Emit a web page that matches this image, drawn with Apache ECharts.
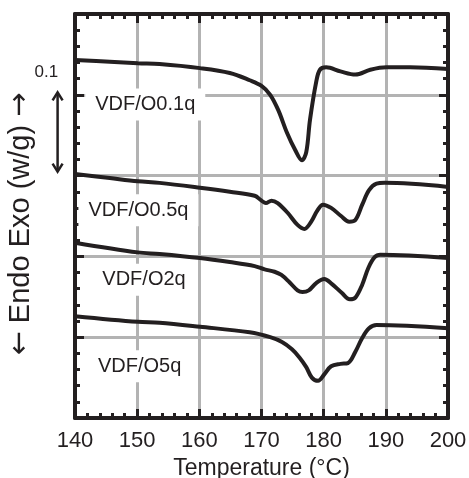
<!DOCTYPE html>
<html>
<head>
<meta charset="utf-8">
<script src="https://cdn.jsdelivr.net/npm/echarts@6/dist/echarts.min.js"></script>
<style>
html,body{margin:0;padding:0;background:#fff;}
#c{width:469px;height:478px;}
</style>
</head>
<body>
<div id="c"></div>
<script>
// ---- data (temperature in °C, heat flow in W/g, arbitrary offset) ----
const xTicks = [140, 150, 160, 170, 180, 190, 200];
const seriesNames = ['VDF/O0.1q', 'VDF/O0.5q', 'VDF/O2q', 'VDF/O5q'];

const t1 = [140.0,145.6,150.1,153.6,160.1,164.9,168.1,170.0,171.4,172.7,174.1,175.4,176.5,177.2,177.8,178.8,179.4,180.4,182.7,185.1,187.5,190.1,193.9,200.0];
const v1 = [0.443,0.441,0.439,0.438,0.433,0.427,0.418,0.411,0.400,0.381,0.353,0.332,0.319,0.329,0.369,0.416,0.431,0.434,0.429,0.425,0.431,0.434,0.434,0.432];

const t2 = [140.0,145.6,150.1,153.6,160.1,164.9,168.9,170.0,170.7,171.6,172.6,174.2,175.8,176.9,178.0,179.0,179.9,181.2,182.8,184.1,185.1,186.2,187.3,188.5,189.8,200.0];
const v2 = [0.302,0.297,0.293,0.291,0.285,0.280,0.275,0.269,0.266,0.269,0.266,0.254,0.239,0.234,0.243,0.257,0.264,0.260,0.250,0.243,0.245,0.264,0.282,0.290,0.291,0.286];

const t3 = [140.0,150.1,153.6,160.1,164.9,168.9,170.5,172.1,173.2,174.5,175.8,176.6,177.6,178.8,180.1,181.3,182.9,184.2,185.1,186.2,187.2,188.2,189.1,200.0];
const v3 = [0.217,0.205,0.203,0.198,0.193,0.188,0.184,0.181,0.177,0.168,0.158,0.156,0.158,0.167,0.172,0.166,0.155,0.147,0.149,0.165,0.186,0.199,0.202,0.198];

const t4 = [140.0,150.1,153.6,160.1,168.1,171.4,173.3,174.9,176.1,177.2,178.1,179.1,180.1,181.2,182.7,183.9,185.1,186.2,187.3,188.5,200.0];
const v4 = [0.126,0.119,0.118,0.113,0.106,0.100,0.094,0.085,0.075,0.063,0.050,0.046,0.054,0.064,0.067,0.068,0.082,0.099,0.111,0.115,0.111];

// label anchor positions (data coords)
const labelT = [151.3, 150.2, 151.1, 150.4];
const labelV = [0.388, 0.257, 0.171, 0.064];

// scale bar: 0.1 W/g
const scaleBarT = 137.2;
const scaleBarFrom = 0.305;
const scaleBarTo = 0.403;
const scaleText = '0.1';
const scaleTextT = 135.4;
const scaleTextV = 0.428;

const ink = '#231f20';
const gridGray = '#b3b3b3';
const font = 'Liberation Sans, Arial, Helvetica, sans-serif';

const chart = echarts.init(document.getElementById('c'), null, {renderer: 'canvas'});

function zip(a, b) { return a.map((x, i) => [x, b[i]]); }
const tArr = [t1, t2, t3, t4];
const vArr = [v1, v2, v3, v4];

const tickCommon = {
  axisLine: {show: true, onZero: false, lineStyle: {color: ink, width: 4}},
  axisTick: {show: true, inside: true, length: 9, lineStyle: {color: ink, width: 3}},
  minorTick: {show: true, splitNumber: 5, length: 5, lineStyle: {color: ink, width: 3}}
};

const series = seriesNames.map((name, i) => ({
  name: name,
  type: 'line',
  data: zip(tArr[i], vArr[i]),
  showSymbol: false,
  smooth: 0.35,
  lineStyle: {color: ink, width: 4},
  z: 3,
  markPoint: {
    symbol: 'rect',
    symbolSize: 0,
    silent: true,
    data: [{coord: [labelT[i], labelV[i]], value: name}],
    label: {
      show: true,
      position: 'inside',
      formatter: name,
      color: ink,
      fontFamily: font,
      fontSize: 20,
      backgroundColor: '#fff',
      padding: [7, 10, 5, 10]
    }
  }
}));

chart.setOption({
  animation: false,
  backgroundColor: '#fff',
  grid: {left: 75, right: 21, top: 14, bottom: 60, containLabel: false, outerBoundsMode: 'none'},
  xAxis: [
    Object.assign({
      type: 'value', min: 140, max: 200, interval: 10, position: 'bottom',
      axisLabel: {show: true, fontSize: 22, fontFamily: font, color: ink, margin: 12,
        formatter: v => xTicks.includes(v) ? String(v) : ''},
      splitLine: {show: true, lineStyle: {color: gridGray, width: 3}},
      name: 'Temperature (°C)', nameLocation: 'middle', nameGap: 37,
      nameTextStyle: {fontSize: 23, fontFamily: font, color: ink}
    }, tickCommon),
    Object.assign({
      type: 'value', min: 140, max: 200, interval: 10, position: 'top',
      axisLabel: {show: false}, splitLine: {show: false}
    }, tickCommon)
  ],
  yAxis: [
    Object.assign({
      type: 'value', min: 0, max: 0.5, interval: 0.1, position: 'left',
      axisLabel: {show: false},
      splitLine: {show: true, lineStyle: {color: gridGray, width: 3}},
      name: '{a|←} Endo Exo (w/g) {a|→}', nameLocation: 'middle', nameRotate: 90, nameGap: 40,
      nameTextStyle: {fontSize: 29, fontFamily: font, color: ink, padding: [0, 0, 0, -16],
        rich: {a: {fontSize: 29, fontFamily: 'DejaVu Sans', color: ink}}}
    }, tickCommon),
    Object.assign({
      type: 'value', min: 0, max: 0.5, interval: 0.1, position: 'right',
      axisLabel: {show: false}, splitLine: {show: false}
    }, tickCommon)
  ],
  series: series
});

// scale bar annotation placed through the axes' own scale
const pTop = chart.convertToPixel({xAxisIndex: 0, yAxisIndex: 0}, [scaleBarT, scaleBarTo]);
const pBot = chart.convertToPixel({xAxisIndex: 0, yAxisIndex: 0}, [scaleBarT, scaleBarFrom]);
const pTxt = chart.convertToPixel({xAxisIndex: 0, yAxisIndex: 0}, [scaleTextT, scaleTextV]);
const hw = 5, hh = 8;
chart.setOption({
  graphic: [
    {type: 'line', shape: {x1: pTop[0], y1: pTop[1] + 1, x2: pBot[0], y2: pBot[1] - 1},
      style: {stroke: ink, lineWidth: 2.5}},
    {type: 'polyline', shape: {points: [[pTop[0] - hw, pTop[1] + hh], [pTop[0], pTop[1]], [pTop[0] + hw, pTop[1] + hh]]},
      style: {stroke: ink, lineWidth: 2.5, fill: null}},
    {type: 'polyline', shape: {points: [[pBot[0] - hw, pBot[1] - hh], [pBot[0], pBot[1]], [pBot[0] + hw, pBot[1] - hh]]},
      style: {stroke: ink, lineWidth: 2.5, fill: null}},
    {type: 'text', x: pTxt[0], y: pTxt[1],
      style: {text: scaleText, fontSize: 17, fontFamily: font, fill: ink, align: 'center', verticalAlign: 'middle'}}
  ]
});
</script>
</body>
</html>
